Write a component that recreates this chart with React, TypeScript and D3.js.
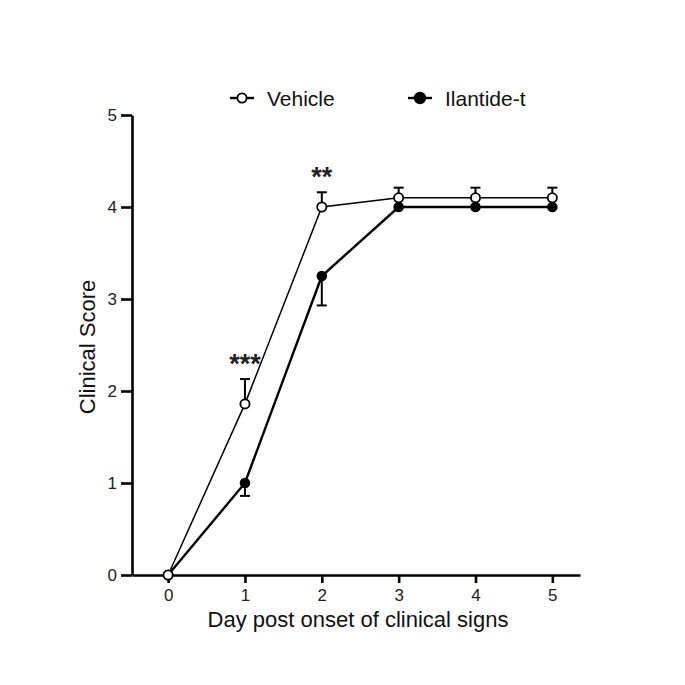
import { useEffect, useRef } from 'react';
import * as d3 from 'd3';

const days = [0, 1, 2, 3, 4, 5];
const vehicleMean = [0, 1.86, 4.0, 4.1, 4.1, 4.1];
const vehicleSem = [0, 0.27, 0.16, 0.11, 0.11, 0.11];
const ilantideMean = [0, 1.0, 3.25, 4.0, 4.0, 4.0];
const ilantideSem = [0, 0.14, 0.32, 0, 0, 0];
const yTicks = [0, 1, 2, 3, 4, 5];
const stars = [
  { day: 1, label: '***' },
  { day: 2, label: '**' }
];
const seriesNames = ['Vehicle', 'Ilantide-t'];

const FONT = '"Liberation Sans", Arial, sans-serif';

const App = () => {
  const svgRef = useRef<SVGSVGElement>(null);
  const width = 685;
  const height = 685;

  useEffect(() => {
    if (!svgRef.current) return;
    const svg = d3.select(svgRef.current);
    svg.selectAll('*').remove();

    const x = d3.scaleLinear().domain([-0.47, 5.36]).range([132, 580]);
    const y = d3.scaleLinear().domain([0, 5]).range([575, 115]);

    // axes
    const yAxis = svg.append('g')
      .attr('transform', `translate(${x(-0.47)},0)`)
      .call(d3.axisLeft(y).tickValues(yTicks).tickSizeInner(11).tickSizeOuter(0).tickPadding(4).tickFormat(d3.format('d')));
    const xAxis = svg.append('g')
      .attr('transform', `translate(0,${y(0)})`)
      .call(d3.axisBottom(x).tickValues(days).tickSizeInner(8).tickSizeOuter(0).tickPadding(6).tickFormat(d3.format('d')));

    [yAxis, xAxis].forEach(g => {
      g.select('.domain').attr('stroke', '#000').attr('stroke-width', 2.6);
      g.selectAll('.tick line').attr('stroke', '#000').attr('stroke-width', 2.6);
      g.selectAll('.tick text')
        .attr('fill', '#222')
        .style('font-family', FONT)
        .style('font-size', '17px');
    });

    svg.append('text')
      .attr('x', 358).attr('y', 627)
      .attr('text-anchor', 'middle')
      .style('font-family', FONT).style('font-size', '22px')
      .attr('fill', '#111')
      .text('Day post onset of clinical signs');

    svg.append('text')
      .attr('transform', `translate(95,347) rotate(-90)`)
      .attr('text-anchor', 'middle')
      .style('font-family', FONT).style('font-size', '22px')
      .attr('fill', '#111')
      .text('Clinical Score');

    const plot = svg.append('g');
    const line = d3.line<number>().x((_, i) => x(days[i])).y(d => y(d));

    // Ilantide-t series (filled)
    plot.append('path')
      .attr('d', line(ilantideMean))
      .attr('fill', 'none').attr('stroke', '#000').attr('stroke-width', 2.4);
    // Vehicle series (open)
    plot.append('path')
      .attr('d', line(vehicleMean))
      .attr('fill', 'none').attr('stroke', '#000').attr('stroke-width', 1.5);

    // error bars
    const errBar = (mean: number[], sem: number[], dir: number) => {
      days.forEach((d, i) => {
        if (sem[i] <= 0) return;
        const end = y(mean[i] + dir * sem[i]);
        plot.append('line')
          .attr('x1', x(d)).attr('x2', x(d))
          .attr('y1', y(mean[i])).attr('y2', end)
          .attr('stroke', '#000').attr('stroke-width', 2);
        plot.append('line')
          .attr('x1', x(d) - 5).attr('x2', x(d) + 5)
          .attr('y1', end).attr('y2', end)
          .attr('stroke', '#000').attr('stroke-width', 2);
      });
    };
    errBar(vehicleMean, vehicleSem, 1);
    errBar(ilantideMean, ilantideSem, -1);

    plot.selectAll('circle.ilantide')
      .data(ilantideMean)
      .enter().append('circle')
      .attr('class', 'ilantide')
      .attr('cx', (_, i) => x(days[i])).attr('cy', d => y(d))
      .attr('r', 5.3).attr('fill', '#000');

    plot.selectAll('circle.vehicle')
      .data(vehicleMean)
      .enter().append('circle')
      .attr('class', 'vehicle')
      .attr('cx', (_, i) => x(days[i])).attr('cy', d => y(d))
      .attr('r', 4.6).attr('fill', '#fff').attr('stroke', '#000').attr('stroke-width', 1.8);

    // significance marks
    stars.forEach(s => {
      const i = days.indexOf(s.day);
      const top = y(vehicleMean[i] + vehicleSem[i]);
      svg.append('text')
        .attr('x', x(s.day)).attr('y', top - 6)
        .attr('text-anchor', 'middle')
        .style('font-family', FONT).style('font-size', '27px').style('font-weight', 'bold')
        .attr('fill', '#222')
        .text(s.label);
    });

    // legend
    const legendItems = [
      { name: seriesNames[0], cx: 242, fill: '#fff', r: 4.6 },
      { name: seriesNames[1], cx: 420, fill: '#000', r: 5.3 }
    ];
    const ly = 98;
    legendItems.forEach(item => {
      const g = svg.append('g');
      g.append('line')
        .attr('x1', item.cx - 12).attr('x2', item.cx + 12)
        .attr('y1', ly).attr('y2', ly)
        .attr('stroke', '#000').attr('stroke-width', 2.4);
      g.append('circle')
        .attr('cx', item.cx).attr('cy', ly).attr('r', item.r)
        .attr('fill', item.fill).attr('stroke', '#000').attr('stroke-width', 1.8);
      g.append('text')
        .attr('x', item.cx + 25).attr('y', ly + 8)
        .style('font-family', FONT).style('font-size', '21px')
        .attr('fill', '#111')
        .text(item.name);
    });
  }, []);

  return (
    <svg
      ref={svgRef}
      width={width}
      height={height}
      style={{ position: 'absolute', left: 0, top: 0, background: '#fff' }}
    />
  );
};

export default App;
